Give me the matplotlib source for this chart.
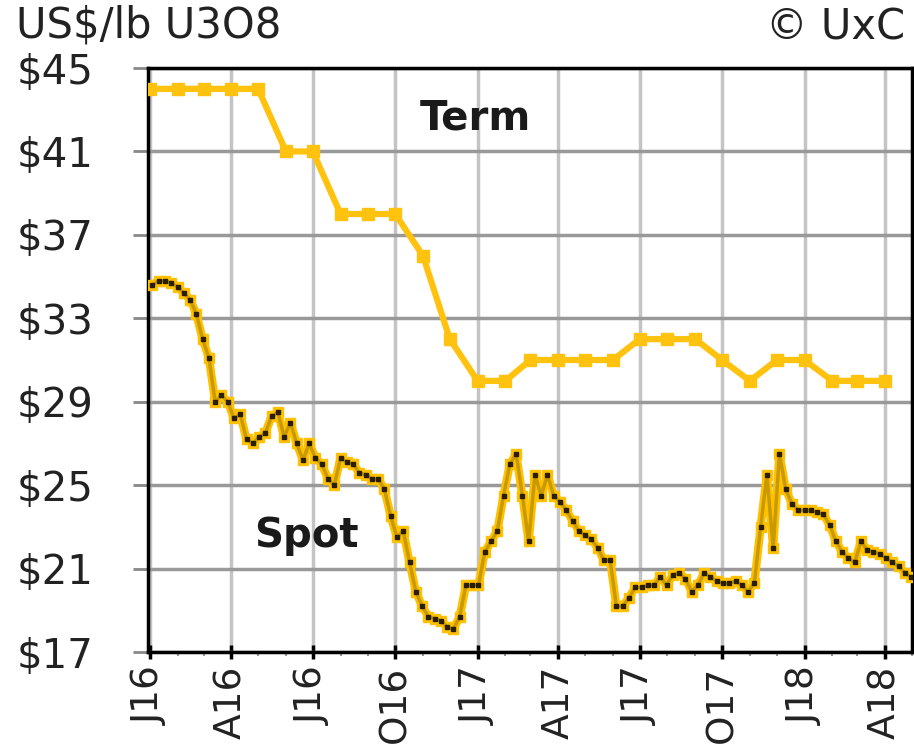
import matplotlib
matplotlib.use('Agg')
import matplotlib.pyplot as plt
import matplotlib.dates as mdates
import pandas as pd

# monthly term price (US$/lb U3O8), Jan 2016 .. Apr 2018
term_dates = pd.date_range('2016-01-01', periods=28, freq='MS')
term = [44, 44, 44, 44, 44, 41, 41, 38, 38, 38, 36, 32, 30, 30,
        31, 31, 31, 31, 32, 32, 32, 31, 30, 31, 31, 30, 30, 30]

# weekly spot price
spot_dates = pd.date_range('2016-01-04', periods=122, freq='7D')
spot = [34.6, 34.8, 34.8, 34.7, 34.5, 34.2, 33.9, 33.2, 32.0, 31.1,
        29.0, 29.3, 29.0, 28.2, 28.4, 27.2, 27.0, 27.3, 27.5, 28.3,
        28.5, 27.3, 28.0, 27.0, 26.2, 27.0, 26.3, 26.0, 25.3, 25.0,
        26.3, 26.1, 26.0, 25.6, 25.5, 25.3, 25.3, 24.8, 23.5, 22.5,
        22.8, 21.3, 19.9, 19.2, 18.7, 18.6, 18.5, 18.2, 18.1, 18.7,
        20.2, 20.2, 20.2, 21.8, 22.3, 22.8, 24.5, 26.0, 26.5, 24.5,
        22.3, 25.5, 24.5, 25.5, 24.5, 24.2, 23.8, 23.3, 22.8, 22.6,
        22.4, 22.0, 21.4, 21.4, 19.2, 19.2, 19.6, 20.1, 20.1, 20.2,
        20.2, 20.6, 20.2, 20.7, 20.8, 20.5, 19.9, 20.2, 20.8, 20.6,
        20.4, 20.3, 20.3, 20.4, 20.2, 19.9, 20.3, 23.0, 25.5, 22.0,
        26.5, 24.8, 24.1, 23.8, 23.8, 23.8, 23.7, 23.6, 23.1, 22.3,
        21.8, 21.5, 21.3, 22.3, 21.9, 21.8, 21.7, 21.5, 21.3, 21.1,
        20.8, 20.6]

quarter_dates = pd.date_range('2016-01-01', periods=10, freq='QS')
quarter_labels = ['J16', 'A16', 'J16', 'O16', 'J17', 'A17', 'J17', 'O17', 'J18', 'A18']
yticks = list(range(17, 46, 4))

plt.rcParams['font.family'] = ['DejaVu Sans']

fig = plt.figure(figsize=(9.14, 7.52), dpi=100)
ax = fig.add_axes([148/914, 100/752, 764/914, 584/752])

gold = '#FFC20E'
ax.plot(term_dates, term, color=gold, lw=4.5, marker='s', ms=8, zorder=3)

ax.plot(spot_dates, spot, color='#FFC000', lw=6, marker='s', ms=7,
        solid_joinstyle='round', zorder=4)
ax.plot(spot_dates, spot, color='#C99A00', lw=2.5, solid_joinstyle='round', zorder=5)
ax.plot(spot_dates, spot, ls='none', marker='s', ms=2.2, color='#2a1e00', zorder=6)

ax.set_ylim(17, 45)
ax.set_xlim(pd.Timestamp('2015-12-30'), pd.Timestamp('2018-05-01'))

ax.set_yticks(yticks)
ax.set_yticklabels(['$%d' % v for v in yticks], fontsize=29, color='#222222')
ax.set_xticks(quarter_dates)
ax.set_xticklabels(quarter_labels, rotation=90, fontsize=27, color='#222222')
ax.xaxis.set_minor_locator(mdates.MonthLocator())

ax.tick_params(axis='y', length=11, width=2, color='#888888', pad=28)
ax.tick_params(axis='x', which='major', direction='inout', length=10, width=2.5,
               color='black', pad=5)
ax.tick_params(axis='x', which='minor', direction='out', length=3, width=1.5,
               color='#999999')

ax.xaxis.grid(True, color='#c4c4c4', lw=2.5)
ax.yaxis.grid(True, color='#999999', lw=2.5)
ax.set_axisbelow(True)

for s in ax.spines.values():
    s.set_linewidth(2.5)
    s.set_color('black')

ax.text(0.428, 0.914, 'Term', transform=ax.transAxes, ha='center', va='center',
        fontsize=29, fontweight='bold', color='#1a1a1a')
ax.text(0.207, 0.199, 'Spot', transform=ax.transAxes, ha='center', va='center',
        fontsize=29, fontweight='bold', color='#1a1a1a')

fig.text(16/914, 1 - 26/752, 'US$/lb U3O8', ha='left', va='center',
         fontsize=30, color='#222222')
fig.text(905/914, 1 - 27/752, '© UxC', ha='right', va='center',
         fontsize=30, color='#222222')

fig.savefig('out.png', dpi=100)
